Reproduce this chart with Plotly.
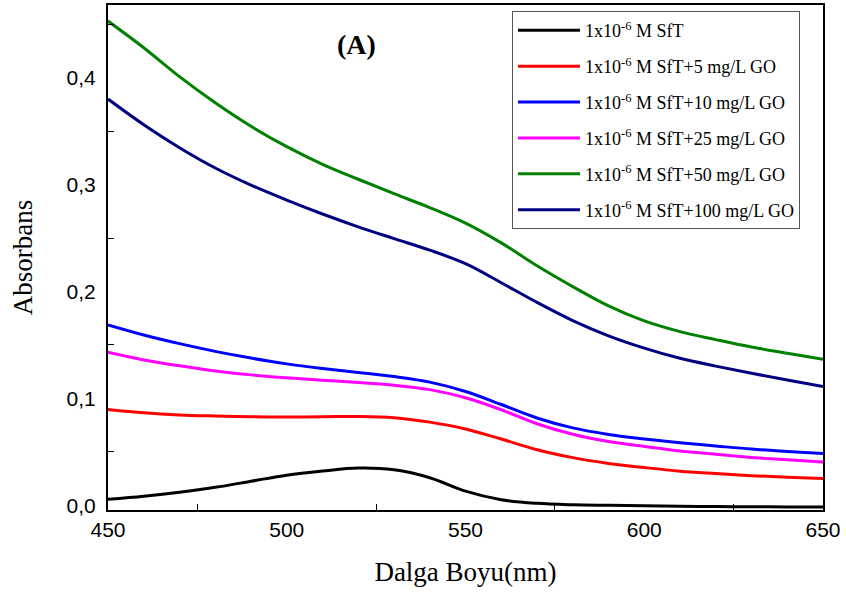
import plotly.graph_objects as go

wavelength = [450, 460, 470, 480, 490, 500, 510, 520, 530, 540, 550,
              560, 570, 580, 590, 600, 610, 620, 630, 640, 650]

sft = [0.0056, 0.0085, 0.0122, 0.0168, 0.0225, 0.0282, 0.0320, 0.0348, 0.0332, 0.0258, 0.0132,
       0.0052, 0.0018, 0.0005, 0.0000, -0.0004, -0.0008, -0.0012, -0.0014, -0.0015, -0.0016]
go_5 = [0.0897, 0.0865, 0.0845, 0.0835, 0.0828, 0.0826, 0.0828, 0.0831, 0.0820, 0.0778, 0.0714,
        0.0620, 0.0520, 0.0446, 0.0392, 0.0353, 0.0319, 0.0297, 0.0277, 0.0263, 0.0251]
go_10 = [0.1687, 0.1593, 0.1512, 0.1440, 0.1377, 0.1323, 0.1280, 0.1243, 0.1204, 0.1152, 0.1064,
         0.0943, 0.0817, 0.0724, 0.0663, 0.0621, 0.0585, 0.0555, 0.0526, 0.0504, 0.0484]
go_25 = [0.1432, 0.1360, 0.1305, 0.1257, 0.1220, 0.1193, 0.1170, 0.1148, 0.1124, 0.1082, 0.1006,
         0.0894, 0.0763, 0.0665, 0.0597, 0.0551, 0.0507, 0.0477, 0.0448, 0.0425, 0.0405]
go_50 = [0.4530, 0.4280, 0.4010, 0.3765, 0.3545, 0.3355, 0.3190, 0.3050, 0.2915, 0.2785, 0.2640,
         0.2455, 0.2240, 0.2045, 0.1865, 0.1725, 0.1625, 0.1550, 0.1480, 0.1423, 0.1367]
go_100 = [0.3800, 0.3560, 0.3345, 0.3155, 0.2995, 0.2855, 0.2725, 0.2605, 0.2495, 0.2387, 0.2260,
          0.2082, 0.1898, 0.1728, 0.1585, 0.1470, 0.1375, 0.1302, 0.1235, 0.1172, 0.1112]

series_names = [
    "1x10<sup>-6</sup> M SfT",
    "1x10<sup>-6</sup> M SfT+5 mg/L GO",
    "1x10<sup>-6</sup> M SfT+10 mg/L GO",
    "1x10<sup>-6</sup> M SfT+25 mg/L GO",
    "1x10<sup>-6</sup> M SfT+50 mg/L GO",
    "1x10<sup>-6</sup> M SfT+100 mg/L GO",
]
series_values = [sft, go_5, go_10, go_25, go_50, go_100]
series_colors = ["#000000", "#FF0000", "#0000FF", "#FF00FF", "#008000", "#000080"]

fig = go.Figure()
for i, (name, vals, col) in enumerate(zip(series_names, series_values, series_colors)):
    fig.add_trace(go.Scatter(
        x=wavelength, y=vals, name=name, mode="lines",
        line=dict(color=col, width=3, shape="spline", smoothing=1.0),
        legendgroup=f"g{i}",
    ))

serif = "Liberation Serif, Times New Roman, serif"
sans = "Liberation Sans, Arial, sans-serif"

fig.update_layout(
    width=846, height=593,
    margin=dict(l=108, r=23, t=3, b=83),
    paper_bgcolor="white", plot_bgcolor="white",
    separators=",.",
    showlegend=True,
    legend=dict(
        x=0.565, y=0.988, xanchor="left", yanchor="top",
        bgcolor="white", bordercolor="#555555", borderwidth=1,
        font=dict(family=serif, size=18, color="black"),
        traceorder="grouped", tracegroupgap=9.5, itemwidth=62,
    ),
    xaxis=dict(
        range=[450, 650], dtick=50, tick0=450,
        showgrid=False, zeroline=False,
        showline=True, linecolor="black", linewidth=2, mirror=True,
        ticks="", ticklabelstandoff=0,
        tickfont=dict(family=sans, size=21, color="black"),
        minor=dict(ticks="inside", ticklen=6, tickcolor="black", tickwidth=1, dtick=25, tick0=450, showgrid=False),
        title=dict(text="Dalga Boyu(nm)", font=dict(family=serif, size=27, color="black"), standoff=22),
    ),
    yaxis=dict(
        range=[-0.0044, 0.468], dtick=0.1, tick0=0, tickformat=".1f",
        showgrid=False, zeroline=False,
        showline=True, linecolor="black", linewidth=2, mirror=True,
        ticks="", ticklabelstandoff=6,
        tickfont=dict(family=sans, size=21, color="black"),
        minor=dict(ticks="inside", ticklen=6, tickcolor="black", tickwidth=1, dtick=0.05, tick0=0, showgrid=False),
        title=dict(text="Absorbans", font=dict(family=serif, size=27, color="black"), standoff=26),
    ),
    annotations=[dict(
        text="<b>(A)</b>", x=0.348, y=0.922, xref="paper", yref="paper",
        xanchor="center", yanchor="middle",
        showarrow=False, font=dict(family=serif, size=28, color="black"),
    )],
)

fig.write_html("out.html")
